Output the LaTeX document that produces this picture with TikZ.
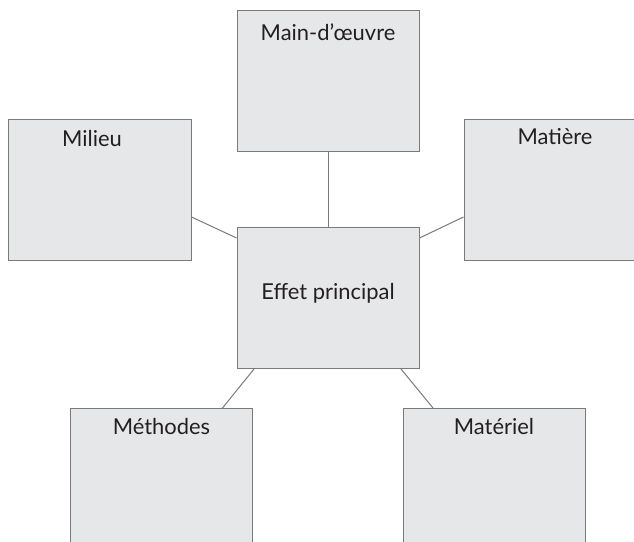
\documentclass[tikz,border=0pt]{standalone}
\usepackage{fontspec}
\setmainfont{Lato}
\usetikzlibrary{positioning}
\definecolor{fondboite}{HTML}{E6E7E8}
\definecolor{bordboite}{HTML}{7A7A7A}
\definecolor{texte}{HTML}{231F20}
\tikzstyle{boite} = [rectangle, draw=bordboite, fill=fondboite, line width=1bp, minimum width=182bp, minimum height=141bp, inner sep=0pt]
\tikzstyle{titre} = [anchor=base, inner sep=0pt, text=texte, font=\fontsize{22}{26}\selectfont]
\tikzstyle{lien} = [draw=bordboite, line width=1bp]

\begin{document}
\begin{tikzpicture}[x=1bp, y=-1bp]
    \useasboundingbox (0,0) rectangle (634,542);
    \clip (0,0) rectangle (634,542);

    \node (effet)[boite] at (328,298) {};
    \node (main)[boite, above=75bp of effet] {};
    \node (milieu)[boite, left=45bp of effet, yshift=108bp] {};
    \node (matiere)[boite, right=44bp of effet, yshift=108bp, minimum width=170bp] {};
    \node (methodes)[boite, below=39bp of effet, xshift=-166.5bp] {};
    \node (materiel)[boite, below=39bp of effet, xshift=166bp] {};

    \node (t-effet)[titre] at ([yshift=-1bp]effet.center) {Effet principal};
    \node (t-main)[titre] at ([yshift=-31bp]main.north) {Main-d’œuvre};
    \node (t-milieu)[titre] at ([xshift=-8bp, yshift=-28bp]milieu.north) {Milieu};
    \node (t-matiere)[titre] at ([xshift=6bp, yshift=-26bp]matiere.north) {Matière};
    \node (t-methodes)[titre] at ([yshift=-26bp]methodes.north) {Méthodes};
    \node (t-materiel)[titre] at ([yshift=-26bp]materiel.north) {Matériel};

    \draw [lien] (main) -- (effet);
    \draw [lien] ([yshift=-27bp]milieu.east) -- ([yshift=60bp]effet.west);
    \draw [lien] ([yshift=-27bp]matiere.west) -- ([yshift=60bp]effet.east);
    \draw [lien] ([xshift=61bp]methodes.north) -- ([xshift=-74bp]effet.south);
    \draw [lien] ([xshift=-61bp]materiel.north) -- ([xshift=73bp]effet.south);

\end{tikzpicture}
\end{document}
